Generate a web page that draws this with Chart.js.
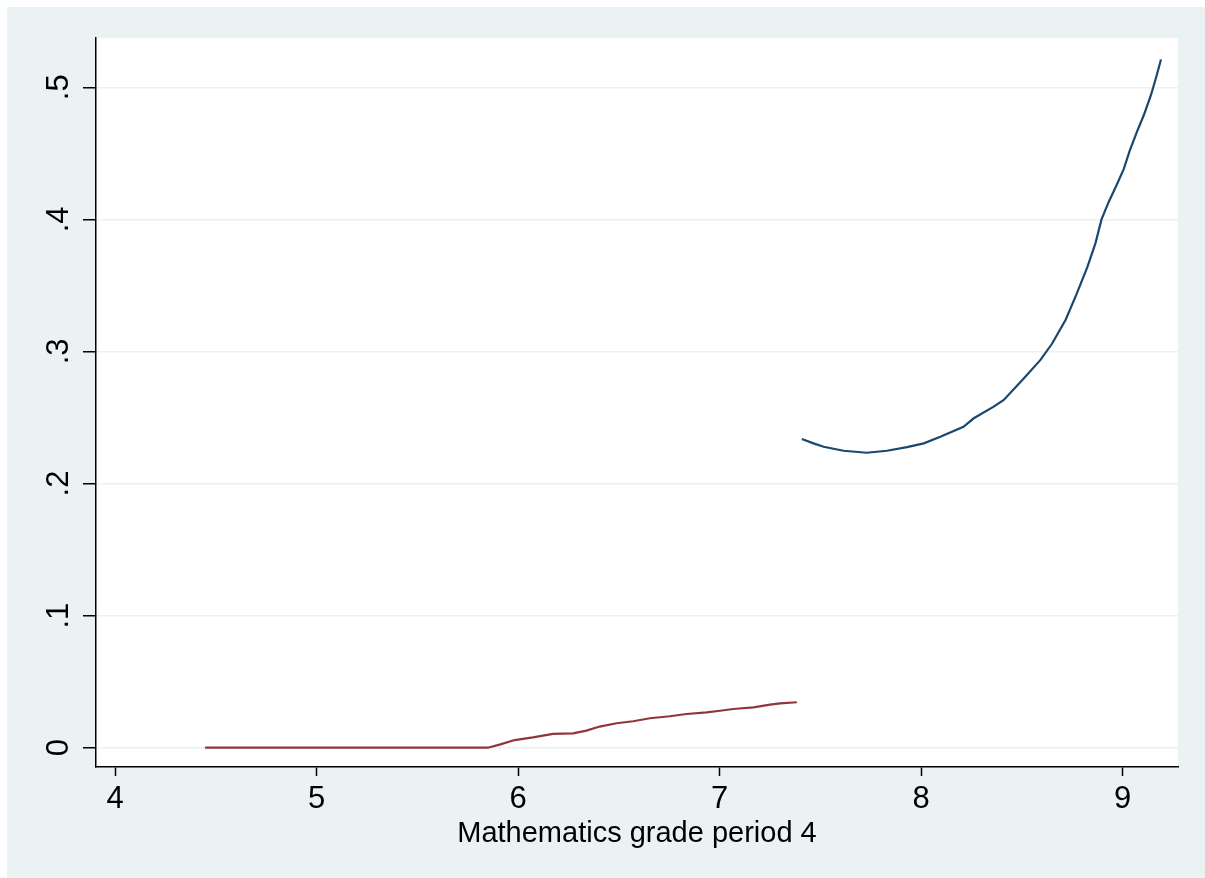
<!DOCTYPE html>
<html lang="en">
<head>
  <meta charset="UTF-8" />
  <title>Mathematics grade period 4</title>
  <script src="https://cdn.jsdelivr.net/npm/chart.js"></script>
  <style>
    body { margin: 0; background: #fff; }
    canvas { display: block; }
  </style>
</head>
<body>
  <canvas id="chart" width="1205" height="878"></canvas>

  <script>
    // values
    const redX = [4.447, 5.85, 5.908, 5.983, 6.074, 6.173, 6.273, 6.339, 6.405, 6.489, 6.571,
                  6.654, 6.753, 6.836, 6.936, 7.002, 7.068, 7.168, 7.25, 7.30, 7.383];
    const redY = [0, 0, 0.0023, 0.0058, 0.0078, 0.0104, 0.0109, 0.0129, 0.016, 0.0185, 0.020,
                  0.0223, 0.0238, 0.0255, 0.0268, 0.028, 0.0293, 0.0306, 0.0326, 0.0336, 0.0344];

    const blueX = [7.408, 7.466, 7.516, 7.615, 7.73, 7.83, 7.93, 8.013, 8.095, 8.21, 8.261,
                   8.36, 8.41, 8.51, 8.592, 8.65, 8.717, 8.77, 8.825, 8.865, 8.895, 8.93,
                   8.97, 9.005, 9.035, 9.07, 9.105, 9.14, 9.165, 9.19];
    const blueY = [0.2337, 0.2304, 0.2278, 0.2248, 0.2233, 0.2248, 0.2276, 0.2304, 0.2354, 0.243, 0.2494,
                   0.2582, 0.2633, 0.2797, 0.2936, 0.306, 0.324, 0.343, 0.364, 0.382, 0.40, 0.413,
                   0.426, 0.438, 0.452, 0.466, 0.479, 0.494, 0.507, 0.521];

    const xTicks = [4, 5, 6, 7, 8, 9];
    const yTicks = [0, 0.1, 0.2, 0.3, 0.4, 0.5];
    const yTickLabels = ['0', '.1', '.2', '.3', '.4', '.5'];
    const xTitle = 'Mathematics grade period 4';

    const toPoints = (xs, ys) => xs.map((x, i) => ({ x: x, y: ys[i] }));

    // Stata-like backgrounds: graph region + white plot region
    const backgrounds = {
      id: 'backgrounds',
      beforeDraw(chart) {
        const { ctx, width, height, chartArea } = chart;
        ctx.save();
        ctx.fillStyle = '#ffffff';
        ctx.fillRect(0, 0, width, height);
        ctx.fillStyle = '#eaf2f3';
        ctx.fillRect(7, 7, width - 7, height - 7);
        ctx.fillStyle = '#ffffff';
        ctx.fillRect(chartArea.left, chartArea.top, chartArea.right - chartArea.left, chartArea.bottom - chartArea.top);
        ctx.restore();
      }
    };

    const font = 'Liberation Sans, Arial, sans-serif';

    new Chart(document.getElementById('chart'), {
      type: 'scatter',
      data: {
        datasets: [
          { data: toPoints(blueX, blueY), showLine: true, borderColor: '#1a476f', borderWidth: 2.2, pointRadius: 0, tension: 0 },
          { data: toPoints(redX, redY), showLine: true, borderColor: '#90353b', borderWidth: 2.2, pointRadius: 0, tension: 0 }
        ]
      },
      options: {
        responsive: false,
        animation: false,
        layout: { padding: { left: 0, top: 38, right: 27, bottom: 0 } },
        plugins: { legend: { display: false }, tooltip: { enabled: false } },
        scales: {
          x: {
            type: 'linear',
            min: 3.9057,
            max: 9.2744,
            afterFit: s => { s.height = 111; },
            afterBuildTicks: s => { s.ticks = xTicks.map(v => ({ value: v })); },
            border: { color: '#000', width: 1.5 },
            grid: { drawOnChartArea: false, tickLength: 9, tickColor: '#000', tickWidth: 1.5 },
            ticks: { color: '#000', font: { family: font, size: 31 }, padding: 5, maxRotation: 0,
                     callback: v => String(v) },
            title: { display: true, text: xTitle, color: '#000',
                     font: { family: font, size: 29 }, padding: { top: 0, bottom: 27 } }
          },
          y: {
            type: 'linear',
            min: -0.01461,
            max: 0.5373,
            afterFit: s => { s.width = 96; },
            afterBuildTicks: s => { s.ticks = yTicks.map(v => ({ value: v })); },
            border: { color: '#000', width: 1.5 },
            grid: { color: '#eaf2f3', lineWidth: 1.5, tickLength: 13, tickColor: '#000', tickWidth: 1.5 },
            ticks: { color: '#000', font: { family: font, size: 31 }, padding: 11,
                     minRotation: 90, maxRotation: 90, crossAlign: 'center',
                     callback: (v, i) => yTickLabels[i] }
          }
        }
      },
      plugins: [backgrounds]
    });
  </script>
</body>
</html>
